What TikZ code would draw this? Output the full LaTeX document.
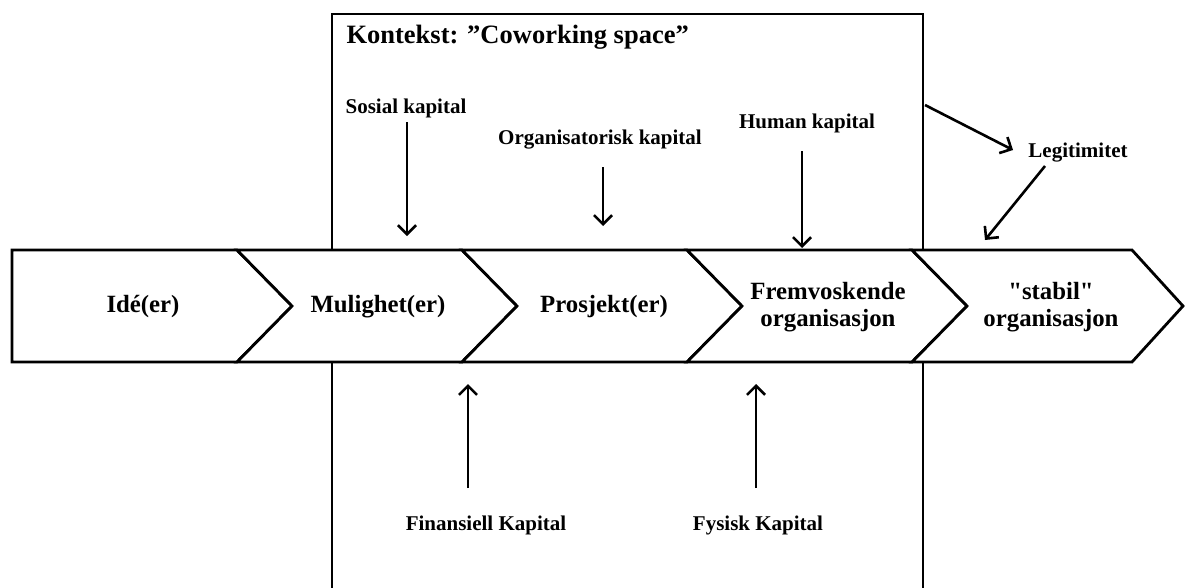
\documentclass[tikz,border=0pt]{standalone}
\usepackage{fontspec}
\setmainfont{Liberation Serif}[Ligatures=TeXOff]
\usetikzlibrary{arrows.meta}
\begin{document}
\begin{tikzpicture}[x=1pt,y=-1pt,
  chev/.style={draw=black,line width=2.8pt,fill=white,line join=miter},
  stage/.style={font=\fontsize{24.8}{29}\selectfont\bfseries,align=center},
  res/.style={font=\fontsize{21}{25}\selectfont\bfseries},
  flow/.style={line width=2.6pt,-{Straight Barb[length=9pt,width=18pt]}},
  frame/.style={line width=2.6pt}]
\useasboundingbox (0,0) rectangle (1185,587);

% context frame (open at the bottom)
\draw[frame] (332,600) -- (332,14) -- (923,14) -- (923,600);
\node[anchor=west,font=\fontsize{26.5}{30}\selectfont\bfseries] (ctx) at (343,37) {Kontekst: ”Coworking space”};

% process chevrons
\draw[chev] (12,250) -- (237,250) -- (292,306) -- (237,362) -- (12,362) -- cycle;
\draw[chev] (237,250) -- (462,250) -- (517,306) -- (462,362) -- (237,362) -- (292,306) -- cycle;
\draw[chev] (462,250) -- (687,250) -- (742,306) -- (687,362) -- (462,362) -- (517,306) -- cycle;
\draw[chev] (687,250) -- (912,250) -- (967,306) -- (912,362) -- (687,362) -- (742,306) -- cycle;
\draw[chev] (912,250) -- (1132,250) -- (1183,306) -- (1132,362) -- (912,362) -- (967,306) -- cycle;

\node[stage] (ide)  at (143,307) {Idé(er)};
\node[stage] (mul)  at (378,307) {Mulighet(er)};
\node[stage] (pro)  at (604,307) {Prosjekt(er)};
\node[stage] (frem) at (828,307) {Fremvoskende\\[-2pt]organisasjon};
\node[stage] (stab) at (1051,307) {"stabil"\\[-2pt]organisasjon};

% resources
\node[res] (sos) at (406,108) {Sosial kapital};
\node[res] (org) at (600,140) {Organisatorisk kapital};
\node[res] (hum) at (807,123) {Human kapital};
\node[res] (leg) at (1078,153) {Legitimitet};
\node[res] (fin) at (486,525) {Finansiell Kapital};
\node[res] (fys) at (758,525) {Fysisk Kapital};

\coordinate (sosA) at (407,122);  \coordinate (sosB) at (407,236);
\coordinate (orgA) at (603,167);  \coordinate (orgB) at (603,226);
\coordinate (humA) at (802,151);  \coordinate (humB) at (802,248);
\coordinate (finA) at (468,488);  \coordinate (finB) at (468,384);
\coordinate (fysA) at (756,488);  \coordinate (fysB) at (756,384);
\coordinate (legA) at (925,105);  \coordinate (legB) at (1013,150);
\coordinate (legC) at (1045,166); \coordinate (legD) at (985,240);

\draw[flow] (sosA) -- (sosB);
\draw[flow] (orgA) -- (orgB);
\draw[flow] (humA) -- (humB);
\draw[flow] (finA) -- (finB);
\draw[flow] (fysA) -- (fysB);
\draw[flow] (legA) -- (legB);
\draw[flow] (legC) -- (legD);
\end{tikzpicture}
\end{document}
